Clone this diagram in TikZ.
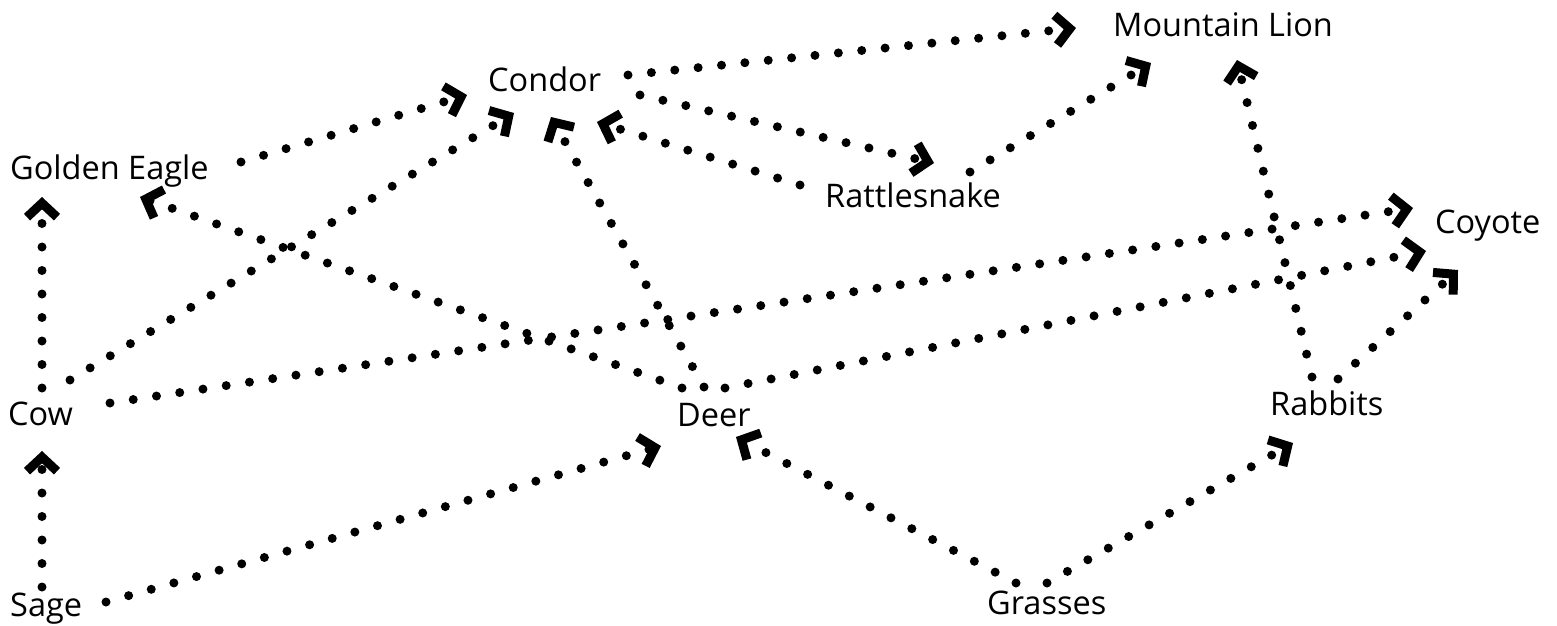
\documentclass[tikz,border=0pt]{standalone}
\usepackage{fontspec}
\setmainfont{Open Sans}
\usetikzlibrary{arrows.meta}
\begin{document}
\begin{tikzpicture}[x=1pt,y=-1pt,
  lbl/.style={anchor=base west,inner sep=0pt,font=\fontsize{32.5}{39}\selectfont},
  feeds/.style={line width=9pt,line cap=round,dash pattern=on 0pt off 23.5pt,
    -{Straight Barb[sharp,length=14pt,width=30pt,line width=9pt]}}]
\useasboundingbox (0,0) rectangle (1557,626);
\node[lbl] (ml) at (1113,37) {Mountain Lion};
\node[lbl] (condor) at (488,92) {Condor};
\node[lbl] (ge) at (10,179) {Golden Eagle};
\node[lbl] (rattle) at (825,207) {Rattlesnake};
\node[lbl] (coyote) at (1435,233) {Coyote};
\node[lbl] (cow) at (8,425) {Cow};
\node[lbl] (deer) at (677,426) {Deer};
\node[lbl] (rabbits) at (1270,415) {Rabbits};
\node[lbl] (sage) at (10,616) {Sage};
\node[lbl] (grasses) at (987,614) {Grasses};
% connectors
\draw[feeds] ([shift={(32,-29)}]sage.base west) -- ([shift={(34,26)}]cow.base west);
\draw[feeds] ([shift={(96,-14)}]sage.base west) -- ([shift={(-16,20)}]deer.base west);
\draw[feeds] ([shift={(34,-37)}]cow.base west) -- ([shift={(32,18)}]ge.base west);
\draw[feeds] ([shift={(62,-45)}]cow.base west) -- ([shift={(26,21)}]condor.base west);
\draw[feeds] ([shift={(102,-22)}]cow.base west) -- ([shift={(-22,-25)}]coyote.base west);
\draw[feeds] ([shift={(5,-38)}]deer.base west) -- ([shift={(130,18)}]ge.base west);
\draw[feeds] ([shift={(27,-39)}]deer.base west) -- ([shift={(63,25)}]condor.base west);
\draw[feeds] ([shift={(48,-38)}]deer.base west) -- ([shift={(-9,18)}]coyote.base west);
\draw[feeds] ([shift={(29,-31)}]grasses.base west) -- ([shift={(59,11)}]deer.base west);
\draw[feeds] ([shift={(60,-31)}]grasses.base west) -- ([shift={(23,28)}]rabbits.base west);
\draw[feeds] ([shift={(42,-38)}]rabbits.base west) -- ([shift={(124,23)}]ml.base west);
\draw[feeds] ([shift={(68,-36)}]rabbits.base west) -- ([shift={(23,37)}]coyote.base west);
\draw[feeds] ([shift={(145,-35)}]rattle.base west) -- ([shift={(38,26)}]ml.base west);
\draw[feeds] ([shift={(-25,-22)}]rattle.base west) -- ([shift={(109,30)}]condor.base west);
\draw[feeds] ([shift={(152,3)}]condor.base west) -- ([shift={(109,-44)}]rattle.base west);
\draw[feeds] ([shift={(140,-17)}]condor.base west) -- ([shift={(-37,-9)}]ml.base west);
\draw[feeds] ([shift={(231,-17)}]ge.base west) -- ([shift={(-21,3)}]condor.base west);
\end{tikzpicture}
\end{document}
